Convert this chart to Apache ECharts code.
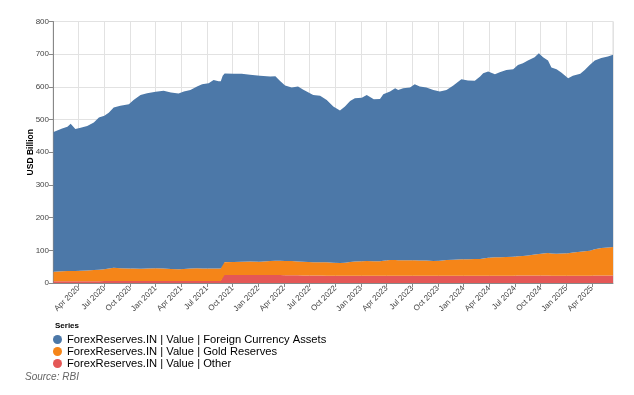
<!DOCTYPE html>
<html>
<head>
<meta charset="utf-8">
<script src="https://cdn.jsdelivr.net/npm/echarts@6/dist/echarts.min.js"></script>
<style>html,body{margin:0;padding:0;background:#fff}#c{width:634px;height:395px}</style>
</head>
<body>
<div id="c"></div>
<script>
const dates = ['2020-01-03','2020-02-03','2020-02-21','2020-03-03','2020-03-10','2020-03-20','2020-04-08','2020-05-01','2020-05-25','2020-06-12',
'2020-07-01','2020-07-17','2020-08-04','2020-08-28','2020-09-27','2020-10-14','2020-11-08','2020-12-01','2021-01-01','2021-01-30',
'2021-02-23','2021-03-22','2021-04-10','2021-05-03','2021-05-27','2021-06-14','2021-07-07','2021-07-25','2021-08-12','2021-08-20',
'2021-08-27','2021-09-03','2021-10-04','2021-11-03','2021-12-02','2022-01-07','2022-02-12','2022-03-01','2022-03-18','2022-04-05',
'2022-04-28','2022-05-21','2022-06-09','2022-07-14','2022-08-08','2022-09-01','2022-09-24','2022-10-18','2022-11-05','2022-11-23',
'2022-12-10','2023-01-04','2023-01-22','2023-02-15','2023-03-08','2023-03-20','2023-04-13','2023-05-01','2023-05-12','2023-05-30',
'2023-06-23','2023-07-10','2023-07-28','2023-08-21','2023-09-15','2023-10-08','2023-11-01','2023-11-25','2023-12-24','2024-01-17',
'2024-02-10','2024-02-28','2024-03-10','2024-03-28','2024-04-21','2024-05-08','2024-06-01','2024-06-25','2024-07-12','2024-07-30',
'2024-08-17','2024-09-10','2024-09-25','2024-10-10','2024-10-28','2024-11-09','2024-11-27','2024-12-14','2025-01-08','2025-01-25',
'2025-02-19','2025-03-06','2025-03-24','2025-04-11','2025-05-04','2025-05-28','2025-06-15'];

const foreignCurrency = [427.5,437,441.5,450,446,434.5,437.5,441.5,451.5,465.5,
470.2,477,490.1,497,503,516,531.6,536.2,540,544,
539.7,538,543.2,546.8,556,563.5,567,577,573,573,
570.7,577,575.7,574.7,571,568.4,564.6,564.2,550,536.5,
531,535,525.7,512.2,509.5,496.2,478,466.3,478,493,
499.5,500.5,508.2,495.5,496.7,509.6,515.3,526,521.3,526.6,
528.6,538.6,532,529.5,523.5,517.7,520.4,532.5,551.1,546.4,
545.7,558.1,567,569.5,560,566,572.4,573.5,585.5,589.9,
596.5,604,614,600.5,588.5,568.5,564.2,554,535.5,540.7,
544.1,554.5,568,577.5,581,584.2,588];

const goldReserves = [29,30.5,31,31.5,31.5,31,32,32.9,33.9,34.8,
36,38.2,41,39.1,38,38,37.9,38.4,38.9,37.9,
36.8,36,36.5,38,39,38.4,37.9,37.9,37.9,37.9,
38.8,39.4,39.7,40.7,41.5,40.9,42.6,44.1,43.8,43.5,
43.2,42.5,42,40.5,40.9,41.5,40,39.2,40,41.8,
43.2,44.2,44.9,44.3,44.1,45.6,47.9,47.5,47,47,
47,46.9,46.6,46.2,45.1,45.8,48.1,49.1,49.9,50.5,
50.9,51.1,52.5,55,56.6,56.6,57.1,58,58.9,60,
61.3,64.2,66.2,67.8,69.4,68.1,67.5,67.8,68.9,70.9,
73.7,75.2,76.6,80.4,84.3,85.7,87.2];

const otherReserves = [5.5,5.5,5.5,5.5,5.5,5.5,5.5,5.6,5.6,5.7,
5.8,5.8,5.9,5.9,6,6,6,6.1,6.1,6.1,
6.1,6,6,6,6,6.1,6.1,6.1,6.1,6.1,
24.5,24.6,24.6,24.6,24.5,24.4,24.4,24.3,24.2,24,
23.8,23.5,23.3,22.8,22.6,22.3,22,22,22,22.2,
22.3,22.3,22.4,22.2,22.2,22.4,22.5,22.5,22.5,22.4,
22.4,22.5,22.4,22.3,22.2,22.2,22.3,22.4,22.5,22.5,
22.4,22.4,22.5,22.5,22.4,22.4,22.5,22.5,22.6,22.6,
22.7,22.8,22.8,22.7,22.6,22.4,22.3,22.2,22.1,22.1,
22.2,22.3,22.4,22.6,22.7,22.8,22.8];

const seriesNames = ['ForexReserves.IN | Value | Foreign Currency Assets','ForexReserves.IN | Value | Gold Reserves','ForexReserves.IN | Value | Other'];
const monthNames = ['Jan','Feb','Mar','Apr','May','Jun','Jul','Aug','Sep','Oct','Nov','Dec'];
const yTicks = [0,100,200,300,400,500,600,700,800];

function toMonths(s){
  const [y,m,d] = s.split('-').map(Number);
  const dim = new Date(Date.UTC(y, m, 0)).getUTCDate();
  return (y-2020)*12 + (m-1) + (d-1)/dim;
}
const xs = dates.map(toMonths);
// value first so that the value dimension (y) is the stacked one
const pairs = arr => arr.map((v,i)=>[v, xs[i]]);

const font = "'Liberation Sans', Arial, sans-serif";
const colors = ['#4c78a8','#f58518','#e45756'];

function area(name, data, color){
  return {name, type:'line', stack:'total', data: pairs(data), encode:{x:1, y:0},
    showSymbol:false, symbol:'circle',
    lineStyle:{width:0}, areaStyle:{color, opacity:1}, itemStyle:{color}, emphasis:{disabled:true}};
}

const chart = echarts.init(document.getElementById('c'), null, {renderer:'canvas'});
chart.setOption({
  animation:false,
  textStyle:{fontFamily:font},
  title:[
    {text:'Series', left:50, top:317, textStyle:{fontSize:8, fontWeight:'bold', color:'#000', fontFamily:font}},
    {text:'Source: RBI', left:20, top:367, textStyle:{fontSize:10, fontStyle:'italic', fontWeight:'normal', color:'#666', fontFamily:font}}
  ],
  legend:{
    orient:'vertical', left:53, top:333.5, itemWidth:9, itemHeight:9, itemGap:0, icon:'circle', padding:0,
    data: seriesNames,
    textStyle:{fontSize:11.2, lineHeight:12, color:'#000', fontFamily:font}
  },
  grid:{left:53, right:21, top:21.5, bottom:112, show:true, borderColor:'#ddd', borderWidth:1},
  xAxis:{
    type:'value', min:0, max:'dataMax', interval:3,
    axisLine:{show:true, lineStyle:{color:'#888'}},
    axisTick:{show:true, length:4, lineStyle:{color:'#888'}},
    splitLine:{show:true, lineStyle:{color:'#e2e2e2'}},
    axisLabel:{
      rotate:45, fontSize:8, color:'#444', margin:4, showMinLabel:false, showMaxLabel:false, fontFamily:font,
      formatter: v => { const r = Math.round(v); return monthNames[((r%12)+12)%12] + ' ' + (2020 + Math.floor(r/12)); }
    }
  },
  yAxis:{
    type:'value', min:yTicks[0], max:yTicks[yTicks.length-1], interval:100,
    name:'USD Billion', nameLocation:'middle', nameGap:18, nameMoveOverlap:false,
    nameTextStyle:{fontSize:8.5, fontWeight:'bold', color:'#000', fontFamily:font},
    axisLine:{show:true, lineStyle:{color:'#888'}},
    axisTick:{show:true, length:4, lineStyle:{color:'#888'}},
    splitLine:{show:true, lineStyle:{color:'#e2e2e2'}},
    axisLabel:{fontSize:8, color:'#444', margin:4, fontFamily:font}
  },
  series:[
    area(seriesNames[2], otherReserves, colors[2]),
    area(seriesNames[1], goldReserves, colors[1]),
    area(seriesNames[0], foreignCurrency, colors[0])
  ]
});
</script>
</body>
</html>
